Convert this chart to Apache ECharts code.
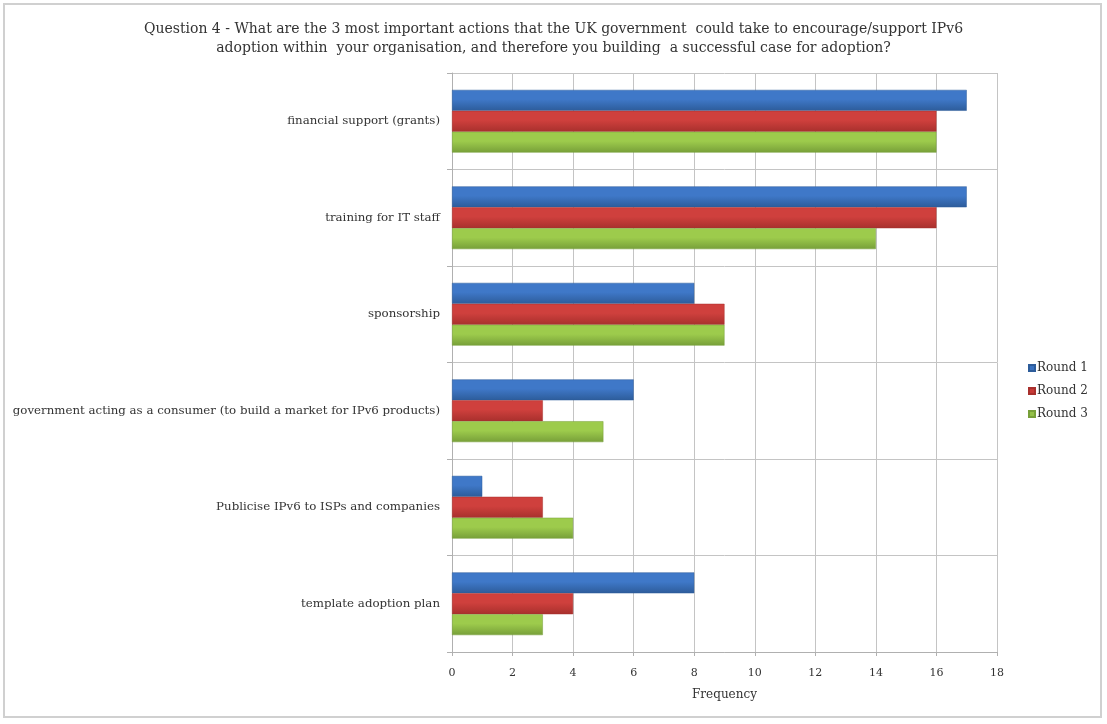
<!DOCTYPE html>
<html>
<head>
<meta charset="utf-8">
<script src="https://cdn.jsdelivr.net/npm/echarts@6/dist/echarts.min.js"></script>
<style>
  html, body { margin: 0; padding: 0; background: #ffffff; }
  #frame { position: absolute; left: 3px; top: 3px; width: 1099px; height: 715px; border: 2px solid #d0d0d0; box-sizing: border-box; }
  #chart { position: absolute; left: 0; top: 0; width: 1107px; height: 724px; }
</style>
</head>
<body>
<div id="frame"></div>
<div id="chart"></div>
<script>
// Survey responses: actions the UK government could take to support IPv6 adoption
const categories = [
  'financial support (grants)',
  'training for IT staff',
  'sponsorship',
  'government acting as a consumer (to build a market for IPv6 products)',
  'Publicise IPv6 to ISPs and companies',
  'template adoption plan'
];
const round1 = [17, 17, 8, 6, 1, 8];
const round2 = [16, 16, 9, 3, 3, 4];
const round3 = [16, 14, 9, 5, 4, 3];
const xTicks = [0, 2, 4, 6, 8, 10, 12, 14, 16, 18];

const serif = '"DejaVu Serif", "Liberation Serif", serif';

function grad(top, bottom) {
  return new echarts.graphic.LinearGradient(0, 0, 0, 1, [
    { offset: 0, color: top },
    { offset: 0.45, color: top },
    { offset: 1, color: bottom }
  ]);
}

const chart = echarts.init(document.getElementById('chart'), null, { renderer: 'canvas' });

function seriesFor(name, data, top, bottom, legendColor) {
  return {
    name: name,
    type: 'bar',
    data: data,
    barCategoryGap: '35%',
    barGap: '0%',
    itemStyle: { color: grad(top, bottom), borderColor: bottom, borderWidth: 0.5 },
    emphasis: { disabled: true },
    legendColor: legendColor
  };
}

const series = [
  seriesFor('Round 1', round1, '#3f78c8', '#2d5c9a', '#3a72c0'),
  seriesFor('Round 2', round2, '#cf403d', '#a8302d', '#c83a37'),
  seriesFor('Round 3', round3, '#9dcb4c', '#779f39', '#93c047')
];

chart.setOption({
  animation: false,
  backgroundColor: 'transparent',
  title: {
    text: 'Question 4 - What are the 3 most important actions that the UK government  could take to encourage/support IPv6\nadoption within  your organisation, and therefore you building  a successful case for adoption?',
    left: 'center',
    top: 15,
    textStyle: { fontFamily: serif, fontSize: 14, fontWeight: 'normal', color: '#333', lineHeight: 19 }
  },
  legend: {
    orient: 'vertical',
    left: 1023,
    top: 357,
    itemWidth: 6,
    itemHeight: 6,
    itemGap: 11,
    icon: 'rect',
    textStyle: { fontFamily: serif, fontSize: 12, color: '#333', padding: [0, 0, 0, -3] },
    data: series.map(s => ({ name: s.name, itemStyle: { color: s.legendColor } }))
  },
  grid: { left: 452, top: 73, width: 545, height: 579, containLabel: false },
  xAxis: {
    type: 'value',
    min: xTicks[0],
    max: xTicks[xTicks.length - 1],
    interval: 2,
    name: 'Frequency',
    nameLocation: 'middle',
    nameGap: 37,
    nameTextStyle: { fontFamily: serif, fontSize: 12, color: '#333' },
    axisLine: { show: true, lineStyle: { color: '#b0b0b0' } },
    axisTick: { show: true, length: 4, lineStyle: { color: '#b0b0b0' } },
    axisLabel: { fontFamily: serif, fontSize: 11, color: '#333', margin: 16 },
    splitLine: { show: true, lineStyle: { color: '#c4c4c4' } }
  },
  yAxis: {
    type: 'category',
    data: categories,
    inverse: true,
    axisLine: { show: true, lineStyle: { color: '#b0b0b0' } },
    axisTick: { show: true, length: 5, lineStyle: { color: '#b0b0b0' } },
    axisLabel: { fontFamily: serif, fontSize: 11.8, color: '#333', margin: 12, padding: [6, 0, 0, 0] },
    splitLine: { show: true, lineStyle: { color: '#c4c4c4' } }
  },
  series: series.map(s => {
    const c = Object.assign({}, s);
    delete c.legendColor;
    return c;
  })
});
</script>
</body>
</html>
